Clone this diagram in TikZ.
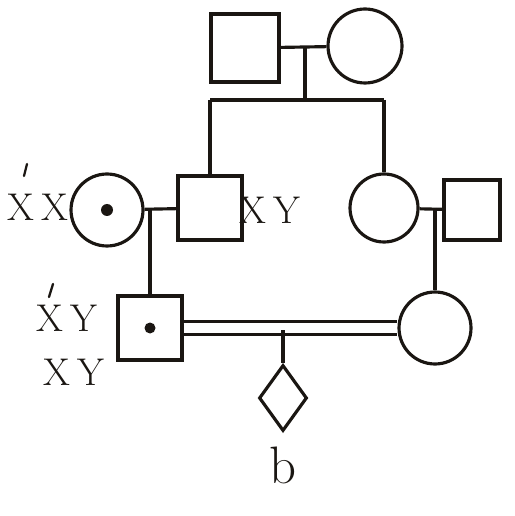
\documentclass[tikz,border=0pt]{standalone}
\usepackage{tikz}
\usetikzlibrary{positioning,shapes.geometric}
\definecolor{Ink}{HTML}{1A1612}

\begin{document}
\begin{tikzpicture}[x=.02cm,y=-.02cm,line width=1.8pt,Ink,
    male/.style={draw,rectangle,minimum size=13mm,inner sep=0pt},
    female/.style={draw,circle,minimum size=14.4mm,inner sep=0pt},
    unknown/.style={draw,diamond,minimum width=9.6mm,minimum height=13.2mm,inner sep=0pt},
    geno/.style={font=\fontsize{22}{26}\selectfont},
    tick/.style={line width=1.3pt,line cap=round}]
        \useasboundingbox (0,0) rectangle (514,516);
        % generation I
        \node[male,minimum size=13.6mm] (m1) at (245,48){};
        \node[female,minimum size=14.8mm] (f1) at (365,46){};
        \coordinate (c1) at (305,48);
        \coordinate (s1) at (305,100);
        \coordinate (sl) at (210,100);
        \coordinate (sr) at (384,100);
        % generation II
        \node[female] (f2) at (107,210){};
        \node[male,minimum size=12.8mm] (m2) at (210,208){};
        \node[female,minimum size=13.6mm] (f3) at (384,208){};
        \node[male,minimum width=11.2mm,minimum height=12mm] (m3) at (472,210){};
        \coordinate (c2) at (150,208);
        \coordinate (c3) at (435,208);
        % generation III
        \node[male,minimum size=12.8mm] (m4) at (150,328){};
        \node[female] (f4) at (435,328){};
        \coordinate (c4) at (283,330);
        \node[unknown] (d1) at (283,398){};
        \fill (f2) circle[radius=1.2mm];
        \fill (m4) circle[radius=1.1mm];
        % lines
        \draw (m1) -- (f1);
        \draw (c1) -- (s1);
        \draw (sl) -- (sr);
        \draw (sl) -- (m2.north);
        \draw (sr) -- (f3.north);
        \draw (f2) -- (m2);
        \draw (f3) -- (m3);
        \draw (c2) -- (m4.north);
        \draw (c3) -- (f4.north);
        \draw[double,double distance=2mm,line width=1.6pt] (m4) -- (f4);
        \draw (c4) -- (d1.north);
        % genotypes
        \node[geno] (g1) at (38,207){X\,X};
        \node[geno] (g2) at (270,210){X\,Y};
        \node[geno] (g3) at (67,318){X\,Y};
        \node[geno] (g4) at (74,372){X\,Y};
        \draw[tick] (27,164) -- (24,176);
        \draw[tick] (53,284) -- (49,297);
        \node[font=\fontsize{30}{34}\selectfont] (lb) at (283,465){b};
      \end{tikzpicture}
\end{document}
